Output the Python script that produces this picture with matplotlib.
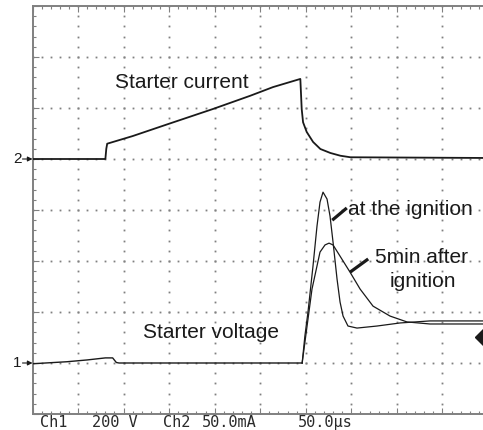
import numpy as np
import matplotlib
matplotlib.use("Agg")
import matplotlib.pyplot as plt

# scope settings (per division) and ground markers
TIME_PER_DIV = 50.0      # us
CH1_V_PER_DIV = 200.0    # V
CH2_MA_PER_DIV = 50.0    # mA
CH1_ZERO = 1             # div
CH2_ZERO = 5             # div

# Ch2: starter current (us, mA)
current_t = [0, 80, 81, 82, 110, 148, 198, 239, 264, 294, 295.5, 297, 301, 308, 316, 327, 338, 349, 500]
current_ma = [0, 0, 10, 15, 22.5, 34, 49, 62, 70.5, 78.5, 49, 36, 26.5, 16.7, 9.8, 5.9, 3.2, 1.7, 1.0]

# Ch1: starter voltage before the pulse (us, V)
pre_t = [0, 38, 60, 80, 88, 92, 95, 296]
pre_v = [-3, 5, 12, 20, 20, 2, 0, 0]

# pulse at the ignition
ign_t = [296, 299, 302.4, 307.9, 312.3, 315.6, 318.9, 323.3, 326.6, 329.9, 334.3, 337.6, 340.9, 346.3, 356.2, 378.2, 403.4, 436.3, 500]
ign_v = [0, 106, 200, 380, 537, 631, 670, 643, 576, 474, 329, 239, 184, 145, 137, 145, 157, 165, 165]

# pulse 5 min after ignition
late_t = [296, 302.4, 306.8, 315.6, 321.1, 325.5, 329.9, 337.6, 348.6, 359.6, 373.8, 392.5, 411.1, 436.3, 500]
late_v = [0, 172, 290, 435, 463, 470, 463, 419, 356, 290, 223, 184, 161, 153, 153]

TRIGGER_V = 102

GRID = "#808080"
INK = "#1a1a1a"


def ch1(v):
    return CH1_ZERO + np.asarray(v) / CH1_V_PER_DIV


def ch2(ma):
    return CH2_ZERO + np.asarray(ma) / CH2_MA_PER_DIV


def tdiv(t):
    return np.asarray(t) / TIME_PER_DIV


def main() -> None:
    plt.rcParams["font.family"] = ["Liberation Sans", "DejaVu Sans"]
    fig = plt.figure(figsize=(4.83, 4.30), dpi=100)
    ax = fig.add_axes([32.5 / 483, 16 / 430, 455.5 / 483, 408 / 430])
    ax.set_xlim(0, 10)
    ax.set_ylim(0, 8)

    # dotted graticule
    fine_y = np.arange(0, 8.001, 0.2)
    fine_x = np.arange(0, 10.001, 0.2)
    for k in range(1, 10):
        ax.plot(np.full_like(fine_y, k), fine_y, ls="none", marker="s", ms=1.3,
                mec="none", mfc=GRID, zorder=1)
    for k in range(1, 8):
        ax.plot(fine_x, np.full_like(fine_x, k), ls="none", marker="s", ms=1.3,
                mec="none", mfc=GRID, zorder=1)

    for s in ax.spines.values():
        s.set_color(GRID)
        s.set_linewidth(1.4)
    ax.set_xticks(range(11))
    ax.set_xticks(fine_x, minor=True)
    ax.set_yticks(range(9))
    ax.set_yticks(fine_y, minor=True)
    ax.tick_params(which="both", direction="in", top=True, bottom=True, left=True, right=False,
                   labelbottom=False, labelleft=False, color=GRID, width=0.8)
    ax.tick_params(which="major", length=4)
    ax.tick_params(which="minor", length=2.5)

    # traces
    ax.plot(tdiv(current_t), ch2(current_ma), color=INK, lw=1.3, zorder=3)
    ax.plot(tdiv(pre_t), ch1(pre_v), color=INK, lw=1.0, zorder=3)
    ax.plot(tdiv(ign_t), ch1(ign_v), color=INK, lw=0.9, zorder=3)
    ax.plot(tdiv(late_t), ch1(late_v), color=INK, lw=0.9, zorder=3)

    # labels
    ax.text(1.81, 6.39, "Starter current", fontsize=15, color=INK)
    ax.text(2.43, 1.49, "Starter voltage", fontsize=15, color=INK)
    ax.text(6.93, 3.90, "at the ignition", fontsize=15, color=INK)
    ax.text(8.55, 2.96, "5min after", fontsize=15, color=INK, ha="center")
    ax.text(8.57, 2.49, "ignition", fontsize=15, color=INK, ha="center")
    ax.plot([6.58, 6.90], [3.80, 4.04], color=INK, lw=2.3, solid_capstyle="butt", zorder=4)
    ax.plot([6.97, 7.37], [2.78, 3.04], color=INK, lw=2.3, solid_capstyle="butt", zorder=4)

    # channel ground markers
    for lvl, name in [(CH2_ZERO, "2"), (CH1_ZERO, "1")]:
        ax.annotate("", xy=(0, lvl), xytext=(-0.22, lvl), annotation_clip=False,
                    arrowprops=dict(arrowstyle="-|>", color=INK, lw=0.8, mutation_scale=7,
                                    shrinkA=0, shrinkB=0))
        ax.text(-0.24, lvl, name, fontsize=11, color=INK, ha="right", va="center", clip_on=False)

    # trigger level marker
    ax.plot([9.9], [ch1(TRIGGER_V)], marker="D", ms=8, color=INK, clip_on=False, zorder=5)

    # readout line
    mono = dict(family="DejaVu Sans Mono", fontsize=11, color="#2a2a2a", va="baseline")
    for x, s in [(40, "Ch1"), (92, "200 V"), (163, "Ch2"), (202, "50.0mA"), (298, "50.0\u00b5s")]:
        fig.text(x / 483, 1 - 427 / 430, s, **mono)

    fig.savefig("out.png", dpi=100)


if __name__ == "__main__":
    main()
